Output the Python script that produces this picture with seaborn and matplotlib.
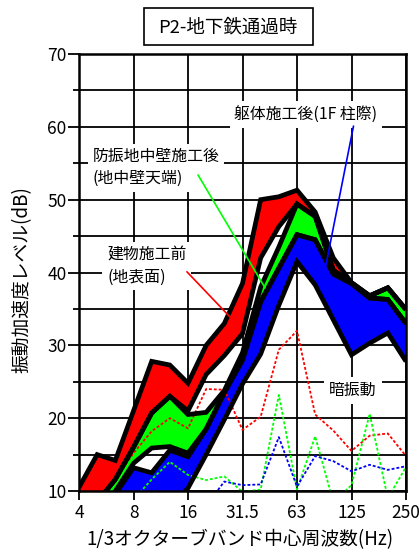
import numpy as np
import pandas as pd
import matplotlib
matplotlib.use("Agg")
import matplotlib.pyplot as plt
from matplotlib.patches import Rectangle
import seaborn as sns

# 1/3 octave band centre frequencies (Hz)
bands = ["4", "5", "6.3", "8", "10", "12.5", "16", "20", "25", "31.5",
         "40", "50", "63", "80", "100", "125", "160", "200", "250"]
tick_labels = ["4", "8", "16", "31.5", "63", "125", "250"]
nan = np.nan

# vibration acceleration level ranges (dB), upper / lower envelope per band
before_upper = [10.5, 15.0, 14.2, 21.0, 27.8, 27.3, 24.8, 30.0, 33.0, 38.5,
                50.0, 50.4, 51.3, 48.3, 42.0, 38.6, 36.8, 37.9, 34.9]
before_lower = [7.0, 8.5, 11.6, 16.0, 20.7, 23.0, 21.0, 26.0, 28.6, 31.6,
                42.0, 46.3, 49.4, 47.7, 40.3, 38.6, 36.8, 37.9, 34.9]
wall_upper = [nan, 8.5, 11.6, 16.0, 20.7, 23.0, 20.5, 20.8, 23.8, 29.0,
              38.0, 43.5, 49.4, 47.7, 40.3, 38.6, 36.8, 37.9, 34.9]
wall_lower = [nan, 7.0, 10.0, 13.8, 15.9, 16.1, 15.2, 18.5, 23.5, 28.0,
              36.0, 40.6, 45.2, 44.5, 39.8, 38.5, 36.5, 36.3, 33.0]
body_upper = [nan, nan, 9.6, 13.2, 12.5, 15.6, 14.7, 18.5, 23.5, 28.0,
              36.0, 40.6, 45.2, 44.5, 39.8, 38.5, 36.5, 36.3, 33.0]
body_lower = [nan, nan, 5.0, 5.0, 5.5, 7.7, 10.4, 15.0, 19.8, 24.7,
              28.8, 35.5, 41.5, 38.3, 33.5, 28.7, 30.3, 31.7, 27.8]

# background vibration (暗振動)
dark_red = [nan, 8.2, 11.6, 15.2, 18.2, 20.0, 18.6, 24.0, 23.9, 18.4,
            20.2, 29.4, 32.0, 20.5, 18.3, 15.5, 17.6, 17.9, 14.8]
dark_green = [nan, nan, nan, 8.8, 11.6, 14.0, 12.2, 11.5, 12.0, 9.9,
              10.2, 23.2, 10.2, 17.5, 8.5, 10.8, 20.6, 9.0, 13.3]
dark_blue = [nan, nan, nan, nan, nan, nan, nan, 8.0, 11.3, 10.8,
             10.9, 17.4, 10.6, 14.8, 14.1, 12.7, 13.6, 12.9, 13.4]

RED, GREEN, BLUE = "#ff0000", "#00ff00", "#0000ff"

sns.set_theme(style="white")
plt.rcParams["font.family"] = ["Noto Sans CJK JP", "DejaVu Sans"]

pos = np.arange(len(bands))
series = {
    "before_upper": before_upper, "before_lower": before_lower,
    "wall_upper": wall_upper, "wall_lower": wall_lower,
    "body_upper": body_upper, "body_lower": body_lower,
    "dark_red": dark_red, "dark_green": dark_green, "dark_blue": dark_blue,
}
df = pd.concat(
    [pd.DataFrame({"pos": pos, "band": bands, "level": vals, "series": name})
     for name, vals in series.items()],
    ignore_index=True,
)

W, H = 419, 558
fig = plt.figure(figsize=(W / 100, H / 100), dpi=100)
fig.patch.set_facecolor("white")
ax = fig.add_axes([79 / W, 1 - 491 / H, (406 - 79) / W, (491 - 54) / H])
ax.set_facecolor("white")

# shaded ranges
for up, lo, col in [("before_upper", "before_lower", RED),
                    ("wall_upper", "wall_lower", GREEN),
                    ("body_upper", "body_lower", BLUE)]:
    u = df[df.series == up].set_index("pos")["level"]
    l = df[df.series == lo].set_index("pos")["level"]
    ok = u.notna() & l.notna()
    ax.fill_between(u.index[ok], l[ok], u[ok], color=col, lw=0, zorder=2)

# background vibration, dotted
for name, col in [("dark_red", RED), ("dark_green", GREEN), ("dark_blue", BLUE)]:
    sub = df[(df.series == name)].dropna()
    sns.lineplot(data=sub, x="pos", y="level", ax=ax, color=col, lw=1.3,
                 estimator=None, sort=False, zorder=3,
                 dashes=False, linestyle=(0, (1.6, 1.1)))

# black outlines of the ranges
for name in ["before_upper", "before_lower", "wall_upper", "wall_lower",
             "body_upper", "body_lower"]:
    sub = df[(df.series == name)].dropna()
    sns.lineplot(data=sub, x="pos", y="level", ax=ax, color="black", lw=3.4,
                 estimator=None, sort=False, zorder=4)
for ln in ax.get_lines():
    ln.set_solid_joinstyle("miter")
    ln.set_solid_capstyle("butt")

ax.set_xlim(0, 18)
ax.set_ylim(10, 70)
ax.set_xticks(np.arange(0, 19, 3))
ax.set_xticklabels(tick_labels)
ax.set_yticks(np.arange(10, 71, 10))
ax.set_yticks(np.arange(15, 70, 10), minor=True)
ax.set_axisbelow(True)
ax.grid(which="major", color="black", lw=1.3)
ax.grid(which="minor", axis="y", color="black", lw=1.3)
ax.tick_params(axis="y", which="major", direction="out", length=8, width=1.3,
               color="black", labelsize=12.5, pad=1, left=True)
ax.tick_params(axis="y", which="minor", direction="out", length=4, width=1.3,
               color="black", left=True)
ax.tick_params(axis="x", which="major", direction="out", length=6.5, width=1.3,
               color="black", labelsize=12.5, pad=3, bottom=True)
for t in ax.get_xticklabels() + ax.get_yticklabels():
    t.set_color("black")
for sp in ax.spines.values():
    sp.set_color("black")
    sp.set_linewidth(1.8)
    sp.set_zorder(6)
ax.set_xlabel("")
ax.set_ylabel("")

# axis titles
fig.text(240 / W, 1 - 540 / H, "1/3オクターブバンド中心周波数(Hz)",
         ha="center", va="center", fontsize=13.5, color="black")
fig.text(22 / W, 1 - 280 / H, "振動加速度レベル(dB)", rotation=90,
         ha="center", va="center", fontsize=13.5, color="black")

# boxed title
fig.patches.append(Rectangle((144 / W, 1 - 45 / H), (313 - 144) / W, (45 - 8) / H,
                             transform=fig.transFigure, facecolor="white",
                             edgecolor="black", lw=1.2))
fig.text(228 / W, 1 - 27 / H, "P2-地下鉄通過時", ha="center", va="center",
         fontsize=13.3, color="black")

box = dict(facecolor="white", edgecolor="none", boxstyle="square,pad=0.3")
ann_size = 11.4

# 躯体施工後
ax.text(12.49, 61.7, "躯体施工後(1F 柱際)", ha="center", va="center",
        fontsize=ann_size, color="black", bbox=box, zorder=7)
ax.plot([15.11, 13.32], [60.1, 37.6], color=BLUE, lw=1.2, zorder=8)

# 防振地中壁施工後
ax.text(0.75, 54.4, "防振地中壁施工後\n(地中壁天端)", ha="left", va="center",
        fontsize=ann_size, color="black", linespacing=1.35, bbox=box, zorder=7)
ax.plot([6.55, 10.24], [53.4, 37.9], color=GREEN, lw=1.2, zorder=8)

# 建物施工前
ax.text(1.55, 40.9, "建物施工前\n(地表面)", ha="left", va="center",
        fontsize=ann_size, color="black", linespacing=1.4, bbox=box, zorder=7)
ax.plot([5.94, 8.31], [40.1, 33.9], color=RED, lw=1.2, zorder=8)

# 暗振動
ax.text(15.08, 23.8, "暗振動", ha="center", va="center",
        fontsize=ann_size, color="black", bbox=box, zorder=7)

fig.savefig("out.png", dpi=100, facecolor="white")
